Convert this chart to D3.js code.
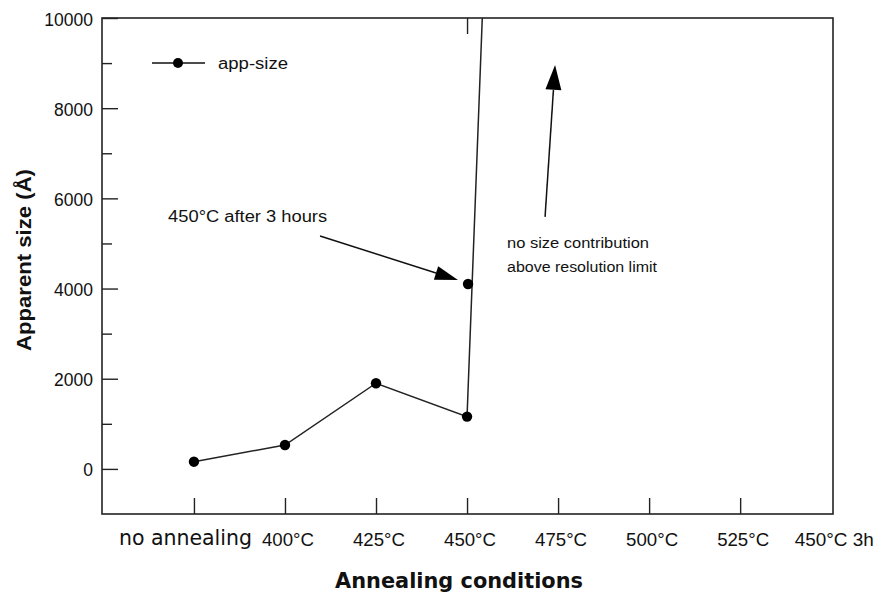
<!DOCTYPE html>
<html>
<head>
<meta charset="utf-8">
<script src="https://cdn.jsdelivr.net/npm/d3@7"></script>
<style>
  html, body { margin: 0; padding: 0; background: #fff; }
  svg { display: block; }
</style>
</head>
<body>
<svg id="chart" width="877" height="593"></svg>
<script>
// ---------------- data ----------------
const categories = ["no annealing", "400°C", "425°C", "450°C", "475°C", "500°C", "525°C", "450°C 3h"];
// apparent size (Å) for the annealing series; 475°C is off-scale (beyond resolution limit)
const appSize = [160, 530, 1900, 1160, 54000];
// separate measurement: 450°C after 3 hours, plotted at the 450°C position
const after3hIndex = 3;
const after3hValue = 4100;
const yMajorTicks = [0, 2000, 4000, 6000, 8000, 10000];
const yMinorTicks = [1000, 3000, 5000, 7000, 9000];
const topTicks = [3];
const legendLabel = "app-size";
const xTitle = "Annealing conditions";
const yTitle = "Apparent size (Å)";
const note1 = "450°C after 3 hours";
const note2 = ["no size contribution", "above resolution limit"];

// ---------------- layout ----------------
const svg = d3.select("#chart");
const pL = 102, pR = 833, pT = 18, pB = 514;
const x = d3.scaleLinear().domain([-1.01, 7.02]).range([pL, pR]);
const y = d3.scaleLinear().domain([-1000, 10000]).range([pB, pT]);
const helv = "'Liberation Sans', Arial, Helvetica, sans-serif";
const verd = "'DejaVu Sans', Verdana, sans-serif";

function stretch(sel, w) {
  sel.attr("textLength", w).attr("lengthAdjust", "spacingAndGlyphs");
}

// clip path for data
svg.append("defs").append("clipPath").attr("id", "plotclip")
  .append("rect").attr("x", pL).attr("y", pT).attr("width", pR - pL).attr("height", pB - pT);

// y axis (ticks inside)
const yAxis = d3.axisLeft(y).tickValues(yMajorTicks).tickSize(-16).tickPadding(26).tickFormat(d3.format("d"));
const gy = svg.append("g").attr("transform", `translate(${pL},0)`).call(yAxis);
gy.select(".domain").remove();
gy.selectAll(".tick line").attr("stroke", "#222").attr("stroke-width", 1.4);
gy.selectAll(".tick text").attr("font-family", helv).attr("font-size", 17.5).attr("fill", "#111")
  .attr("dy", "0.4em").attr("x", -9);
const gyMinor = svg.append("g").attr("transform", `translate(${pL},0)`)
  .call(d3.axisLeft(y).tickValues(yMinorTicks).tickSize(-10).tickFormat(""));
gyMinor.select(".domain").remove();
gyMinor.selectAll(".tick line").attr("stroke", "#222").attr("stroke-width", 1.4);

// x axis (ticks inside, from bottom)
const xIdx = d3.range(categories.length - 1);
const gx = svg.append("g").attr("transform", `translate(0,${pB})`)
  .call(d3.axisBottom(x).tickValues(xIdx).tickSize(-16).tickFormat(""));
gx.select(".domain").remove();
gx.selectAll(".tick line").attr("stroke", "#222").attr("stroke-width", 1.4);
// single top tick
const gxt = svg.append("g").attr("transform", `translate(0,${pT})`)
  .call(d3.axisTop(x).tickValues(topTicks).tickSize(-16).tickFormat(""));
gxt.select(".domain").remove();
gxt.selectAll(".tick line").attr("stroke", "#222").attr("stroke-width", 1.4);

// category labels
categories.forEach((c, i) => {
  const t = svg.append("text").text(c).attr("fill", "#111");
  if (i === 0) {
    t.attr("x", x(i) - 75).attr("y", pB + 31)
      .attr("font-family", verd).attr("font-size", 20.5);
    stretch(t, 133);
  } else {
    const w = c.length > 5 ? 79 : 52;
    t.attr("x", x(i) + 3 - w / 2).attr("y", pB + 32)
      .attr("font-family", helv).attr("font-size", 17.5);
    stretch(t, w);
  }
});

// frame
svg.append("rect").attr("x", pL).attr("y", pT).attr("width", pR - pL).attr("height", pB - pT)
  .attr("fill", "none").attr("stroke", "#222").attr("stroke-width", 1.6);

// axis titles
const xt = svg.append("text").text(xTitle).attr("x", 335).attr("y", 588)
  .attr("font-family", verd).attr("font-weight", "bold").attr("font-size", 21).attr("fill", "#111");
stretch(xt, 248);
const yt = svg.append("text").text(yTitle)
  .attr("transform", `translate(31,${260}) rotate(-90)`)
  .attr("text-anchor", "middle")
  .attr("font-family", helv).attr("font-weight", "bold").attr("font-size", 20).attr("fill", "#111");
stretch(yt, 182);

// data line
const pts = appSize.map((v, i) => [i, v]);
const line = d3.line().x(d => x(d[0])).y(d => y(d[1]));
const gd = svg.append("g").attr("clip-path", "url(#plotclip)");
gd.append("path").datum(pts).attr("d", line).attr("fill", "none").attr("stroke", "#222").attr("stroke-width", 1.5);
gd.selectAll("circle.pt").data(pts.filter(d => d[1] <= 10000)).enter().append("circle")
  .attr("class", "pt").attr("cx", d => x(d[0])).attr("cy", d => y(d[1])).attr("r", 5.2).attr("fill", "#000");
gd.append("circle").attr("cx", x(after3hIndex) + 1).attr("cy", y(after3hValue)).attr("r", 5.2).attr("fill", "#000");

// legend
svg.append("line").attr("x1", 152).attr("x2", 205).attr("y1", 63).attr("y2", 63).attr("stroke", "#111").attr("stroke-width", 1.6);
svg.append("circle").attr("cx", 178).attr("cy", 63).attr("r", 5).attr("fill", "#000");
const lt = svg.append("text").text(legendLabel).attr("x", 218).attr("y", 69)
  .attr("font-family", helv).attr("font-size", 16).attr("fill", "#111");
stretch(lt, 70);

// arrows
function arrow(x1, y1, x2, y2, len, half) {
  const ang = Math.atan2(y2 - y1, x2 - x1);
  const bx = x2 - len * Math.cos(ang), by = y2 - len * Math.sin(ang);
  svg.append("line").attr("x1", x1).attr("y1", y1).attr("x2", bx).attr("y2", by)
    .attr("stroke", "#111").attr("stroke-width", 1.5);
  const px = -Math.sin(ang) * half, py = Math.cos(ang) * half;
  svg.append("polygon")
    .attr("points", `${x2},${y2} ${bx + px},${by + py} ${bx - px},${by - py}`)
    .attr("fill", "#000");
}
// arrow to the 3-hour point (positions in data units)
arrow(x(1.385), y(5165), x(2.9), y(4190), 23, 7);
// arrow pointing up: beyond resolution limit
arrow(x(3.857), y(5590), x(3.967), y(8960), 25, 8);

// annotations
const n1 = svg.append("text").text(note1).attr("x", x(-0.284)).attr("y", 222)
  .attr("font-family", helv).attr("font-size", 16).attr("fill", "#111");
stretch(n1, 159);
note2.forEach((s, i) => {
  const t = svg.append("text").text(s).attr("x", 507).attr("y", 248 + i * 24)
    .attr("font-family", helv).attr("font-size", 14).attr("fill", "#111");
  stretch(t, i === 0 ? 142 : 150);
});
</script>
</body>
</html>
